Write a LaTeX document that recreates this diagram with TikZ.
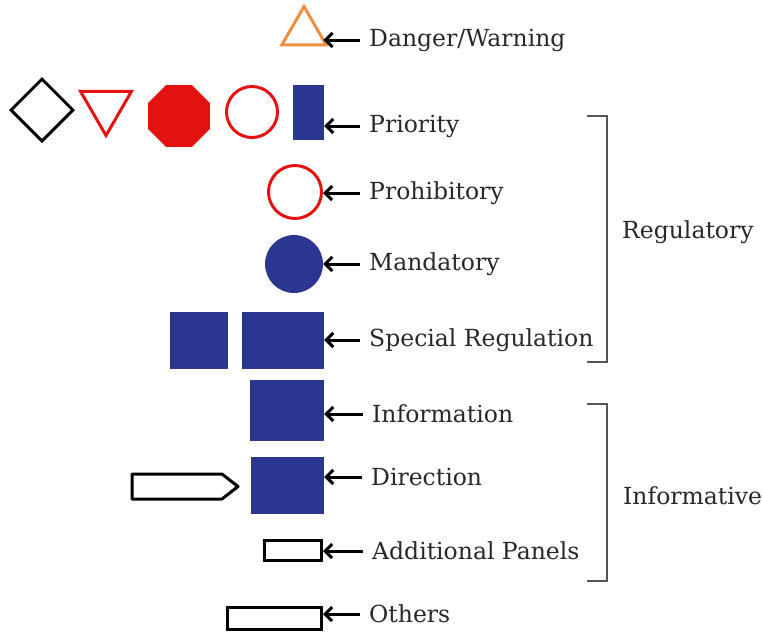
\documentclass[tikz,border=0pt]{standalone}
\usepackage{fontspec}
\setmainfont{DejaVu Serif}
\usetikzlibrary{shapes.geometric,arrows.meta}
\definecolor{signblue}{RGB}{43,54,145}
\definecolor{signred}{RGB}{226,18,18}
\definecolor{signorange}{RGB}{238,142,64}
\definecolor{txtgray}{RGB}{40,40,40}
\definecolor{brgray}{RGB}{85,85,85}
\tikzset{
	lbl/.style={anchor=west, inner xsep=9pt, inner ysep=2pt, text=txtgray, font=\fontsize{23.5}{26}\selectfont},
	pointer/.style={line width=3pt, -{Straight Barb[length=7pt,width=14pt,line width=3pt]}},
	bluebox/.style={rectangle, fill=signblue, inner sep=0pt},
	outline/.style={draw, line width=3pt, inner sep=0pt},
	bracket/.style={draw=brgray, line width=2pt}
}

\begin{document}
\begin{tikzpicture}[x=1pt, y=-1pt]
				\useasboundingbox (0,0) rectangle (762,633);
				\node[outline, draw=signorange, regular polygon, regular polygon sides=3, minimum size=51pt] (S1)at(304, 32) {};
				\node[outline, diamond, minimum size=63pt] (S2)at(42, 110) {};
				\node[outline, draw=signred, regular polygon, regular polygon sides=3, shape border rotate=180, minimum size=59pt] (S3)at(106, 106) {};
				\node[regular polygon, regular polygon sides=8, fill=signred, inner sep=0pt, minimum size=67pt] (S4)at(179, 116) {};
				\node[outline, draw=signred, circle, minimum size=51pt] (S5)at(252, 112) {};
				\node[bluebox, minimum width=31pt, minimum height=55pt] (S6)at(308.5, 112.5) {};
				\node[outline, draw=signred, circle, minimum size=53pt] (S7)at(295, 192) {};
				\node[circle, fill=signblue, inner sep=0pt, minimum size=58pt] (S8)at(294, 264) {};
				\node[bluebox, minimum width=58pt, minimum height=57pt] (S9)at(199, 340.5) {};
				\node[bluebox, minimum width=82pt, minimum height=57pt] (S10)at(283, 340.5) {};
				\node[bluebox, minimum width=74pt, minimum height=61pt] (S11)at(287, 410.5) {};
				\node[bluebox, minimum width=73pt, minimum height=57pt] (S12)at(287.5, 485.5) {};
				\node[outline, rectangle, minimum width=57pt, minimum height=20pt] (S13)at(293, 550.5) {};
				\node[outline, rectangle, minimum width=94pt, minimum height=22pt] (S14)at(274.5, 618.5) {};
				\draw[line width=3pt, line join=round] (132, 474) -- (222, 474) -- (238, 486.5) -- (222, 499) -- (132, 499) -- cycle;
				\node[lbl] (L1)at(360, 40) {Danger/Warning};
				\node[lbl] (L2)at(360, 126) {Priority};
				\node[lbl] (L3)at(360, 193) {Prohibitory};
				\node[lbl] (L4)at(360, 264) {Mandatory};
				\node[lbl] (L5)at(360, 340) {Special Regulation};
				\node[lbl] (L6)at(363, 414) {Information};
				\node[lbl] (L7)at(362, 477) {Direction};
				\node[lbl] (L8)at(363, 551) {Additional Panels};
				\node[lbl] (L9)at(360, 614) {Others};
				\node[lbl, inner xsep=0pt] (R)at(622, 232) {Regulatory};
				\node[lbl, inner xsep=0pt] (I)at(623, 496) {Informative};
				\draw[pointer, shorten >=3pt] (L1.west) -- (L1.west -| S1.east);
				\draw[pointer] (L2.west) -- (L2.west -| S6.east);
				\draw[pointer] (L3.west) -- (L3.west -| S7.east);
				\draw[pointer] (L4.west) -- (L4.west -| S8.east);
				\draw[pointer] (L5.west) -- (L5.west -| S10.east);
				\draw[pointer] (L6.west) -- (L6.west -| S11.east);
				\draw[pointer] (L7.west) -- (L7.west -| S12.east);
				\draw[pointer] (L8.west) -- (L8.west -| S13.east);
				\draw[pointer] (L9.west) -- (L9.west -| S14.east);
				\draw[bracket] (587, 116) -- (607, 116) -- (607, 362) -- (587, 362);
				\draw[bracket] (587, 404) -- (607, 404) -- (607, 581) -- (587, 581);
			\end{tikzpicture}
\end{document}
